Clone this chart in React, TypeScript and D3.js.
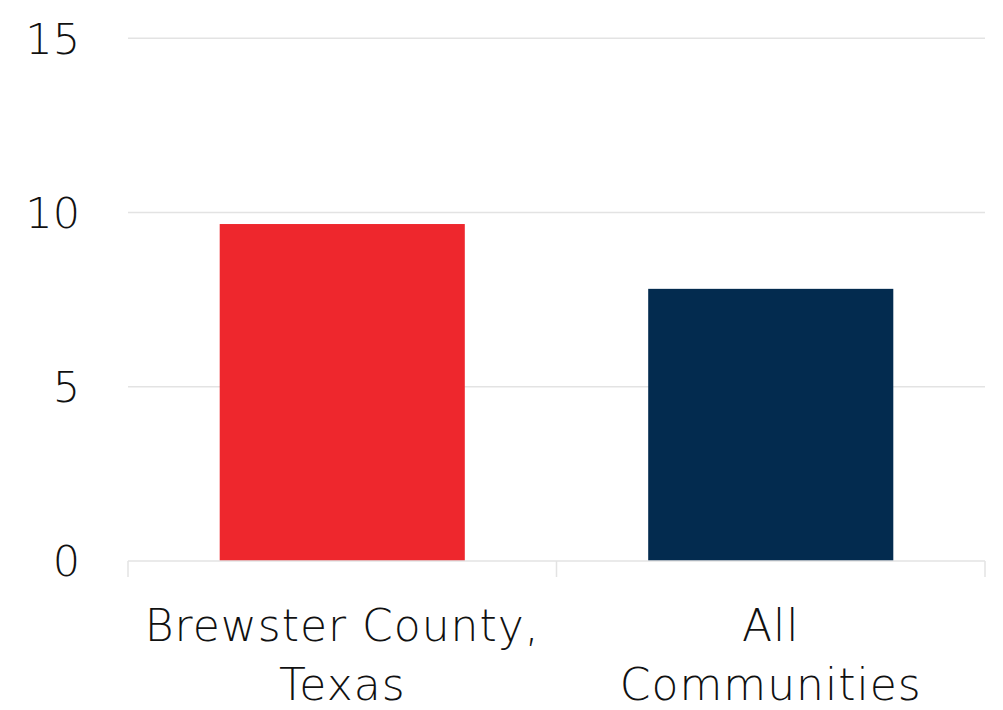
import React from "react";
import * as d3 from "d3";

const categories: string[][] = [["Brewster County,", "Texas"], ["All", "Communities"]];
const values: number[] = [9.67, 7.81];
const colors: string[] = ["#EE272D", "#032B4F"];
const yTicks: number[] = [0, 5, 10, 15];

export default function App() {
  const W = 1003, H = 710;
  const left = 128, right = 985, top = 38.3, bottom = 561;
  const x = d3.scaleBand<number>().domain(d3.range(categories.length)).range([left, right]).paddingInner(0).paddingOuter(0);
  const y = d3.scaleLinear().domain([0, 15]).range([bottom, top]);
  const barW = x.bandwidth() * 0.572;
  const font = "'DejaVu Sans', 'Open Sans', sans-serif";
  return (
    <svg width={W} height={H} style={{ position: "absolute", left: 0, top: 0 }}>
      {yTicks.map((t) => (
        <g key={t}>
          {t !== 0 && <line x1={left} x2={right} y1={y(t)} y2={y(t)} stroke="#e3e3e3" strokeWidth={1.5} />}
          <text x={80} y={y(t)} dy="0.36em" textAnchor="end" fontFamily={font} fontWeight={200} fontSize={43} fill="#111">{t}</text>
        </g>
      ))}
      {values.map((v, i) => (
        <rect key={i} x={(x(i) as number) + x.bandwidth() / 2 - barW / 2} y={y(v)} width={barW} height={y(0) - y(v)} fill={colors[i]} />
      ))}
      <line x1={left} x2={right} y1={bottom} y2={bottom} stroke="#e3e3e3" strokeWidth={1.5} />
      {[...x.domain(), categories.length].map((i) => {
        const xx = i < categories.length ? (x(i) as number) : right;
        return <line key={i} x1={xx} x2={xx} y1={bottom} y2={577} stroke="#e3e3e3" strokeWidth={1.5} />;
      })}
      {categories.map((lines, i) => (
        <text key={i} x={(x(i) as number) + x.bandwidth() / 2} textAnchor="middle" fontFamily={font} fontWeight={200} fontSize={44} letterSpacing={1} fill="#111">
          {lines.map((l, j) => (
            <tspan key={j} x={(x(i) as number) + x.bandwidth() / 2} y={641 + j * 59}>{l}</tspan>
          ))}
        </text>
      ))}
    </svg>
  );
}
